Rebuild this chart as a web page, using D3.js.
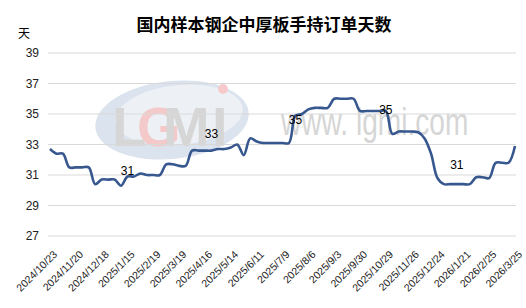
<!DOCTYPE html>
<html><head><meta charset="utf-8">
<script src="https://cdn.jsdelivr.net/npm/d3@7"></script>
<style>
html,body{margin:0;padding:0;background:#fff;}
svg{display:block;}
</style></head>
<body>
<svg id="chart" width="526" height="308"></svg>
<script>
const chartTitle = "国内样本钢企中厚板手持订单天数";
const yUnit = "天";
const categories = [
"2024/10/23","2024/10/30","2024/11/6","2024/11/13","2024/11/20","2024/11/27","2024/12/4","2024/12/11","2024/12/18","2024/12/25",
"2025/1/1","2025/1/8","2025/1/15","2025/1/22","2025/2/5","2025/2/12","2025/2/19","2025/2/26","2025/3/5","2025/3/12",
"2025/3/19","2025/3/26","2025/4/2","2025/4/9","2025/4/16","2025/4/23","2025/4/30","2025/5/7","2025/5/14","2025/5/21",
"2025/5/28","2025/6/4","2025/6/11","2025/6/18","2025/6/25","2025/7/2","2025/7/9","2025/7/16","2025/7/23","2025/7/30",
"2025/8/6","2025/8/13","2025/8/20","2025/8/27","2025/9/3","2025/9/10","2025/9/17","2025/9/24","2025/9/30","2025/10/9",
"2025/10/15","2025/10/22","2025/10/29","2025/11/5","2025/11/12","2025/11/19","2025/11/26","2025/12/3","2025/12/10","2025/12/17",
"2025/12/24","2025/12/31","2026/1/7","2026/1/14","2026/1/21","2026/1/28","2026/2/4","2026/2/11","2026/2/25","2026/3/4",
"2026/3/11","2026/3/18","2026/3/25"];
const values = [
32.7,32.4,32.4,31.5,31.5,31.5,31.5,30.4,30.7,30.7,
30.7,30.3,30.9,30.9,31.1,31.0,31.0,31.0,31.7,31.7,
31.6,31.6,32.6,32.6,32.6,32.6,32.7,32.7,32.8,33.0,
32.3,33.4,33.2,33.1,33.1,33.1,33.1,33.1,34.9,35.0,
35.3,35.4,35.4,35.4,36.0,36.0,36.0,36.0,35.2,35.2,
35.2,35.2,35.2,33.7,33.85,33.85,33.85,33.8,33.4,32.4,
30.8,30.4,30.4,30.4,30.4,30.4,30.85,30.85,30.8,31.8,
31.8,31.8,32.9];
const yTicks = [27,29,31,33,35,37,39];
const labelEvery = 4;
const dataLabelIndex = [12,25,38,52,63];
const dataLabelText = ["31","33","35","35","31"];
const dataLabelAt = [31.25,33.7,34.6,35.3,31.7];

const svg = d3.select("#chart");
const x = d3.scalePoint().domain(categories).range([50,515]);
const y = d3.scaleLinear().domain([27,39]).range([236,53]);
const numFont = "'Liberation Sans', Arial, sans-serif";
const cjkFont = "'Noto Sans CJK SC', sans-serif";

// watermark
const wm = svg.append("g");
wm.append("ellipse").attr("cx",172).attr("cy",120).attr("rx",77).attr("ry",39)
  .attr("transform","rotate(-6,172,120)").attr("fill","#dbe3ee");
wm.append("ellipse").attr("cx",179).attr("cy",115).attr("rx",64).attr("ry",30)
  .attr("transform","rotate(-6,179,115)").attr("fill","#edf1f6");
const lg = [["L",112,"#d6d6d6"],["G",137,"#f4c9c9"],["M",163,"#d6d6d6"],["I",212,"#d6d6d6"]];
wm.selectAll("text.lg").data(lg).join("text").attr("class","lg")
  .attr("x",d=>d[1]).attr("y",146).attr("fill",d=>d[2])
  .attr("font-family",numFont).attr("font-weight","bold").attr("font-size",56)
  .text(d=>d[0]);
wm.append("circle").attr("cx",223).attr("cy",89).attr("r",5).attr("fill","#f6caca");
wm.append("text").attr("transform","translate(281,135) scale(0.74,1)").attr("fill","#d6d6d6")
  .attr("font-family",numFont).attr("font-size",38)
  .text("www. lgmi.com");

// grid
svg.append("g").selectAll("line").data(yTicks).join("line")
  .attr("x1",48).attr("x2",516).attr("y1",d=>y(d)).attr("y2",d=>y(d))
  .attr("stroke","#d9d9d9").attr("stroke-width",1);
svg.append("g").selectAll("text").data(yTicks).join("text")
  .attr("x",39).attr("y",d=>y(d)).attr("dy","0.35em").attr("text-anchor","end")
  .attr("font-family",numFont).attr("font-size",12).attr("fill","#222").text(d=>d);

// x labels
const xl = categories.filter((c,i)=>i%labelEvery===0);
svg.append("g").selectAll("text").data(xl).join("text")
  .attr("transform",d=>`translate(${x(d)+8},${255}) rotate(-45)`)
  .attr("text-anchor","end").attr("font-family",numFont).attr("font-size",10.5)
  .attr("fill","#222").text(d=>d);

// line
const line = d3.line().x((d,i)=>x(categories[i])).y(d=>y(d)).curve(d3.curveCatmullRom.alpha(0.5));
svg.append("path").datum(values).attr("d",line).attr("fill","none")
  .attr("stroke","#37578f").attr("stroke-width",2.6).attr("stroke-linejoin","round");

// data labels
svg.append("g").selectAll("text").data(dataLabelIndex).join("text")
  .attr("x",d=>x(categories[d])).attr("y",(d,i)=>y(dataLabelAt[i])).attr("dy","0.35em")
  .attr("text-anchor","middle").attr("font-family",numFont).attr("font-size",12).attr("fill","#000")
  .text((d,i)=>dataLabelText[i]);

// title and unit
svg.append("text").attr("x",264).attr("y",31).attr("text-anchor","middle")
  .attr("font-family",cjkFont).attr("font-weight","bold").attr("font-size",17).attr("fill","#000").text(chartTitle);
svg.append("text").attr("x",24).attr("y",38).attr("text-anchor","middle")
  .attr("font-family",cjkFont).attr("font-size",12).attr("fill","#000").text(yUnit);
</script>
</body></html>
